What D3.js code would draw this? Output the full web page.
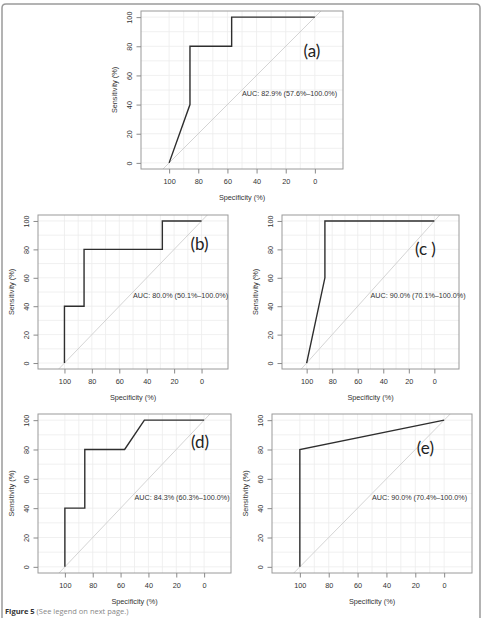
<!DOCTYPE html>
<html>
<head>
<meta charset="utf-8">
<script src="https://cdn.jsdelivr.net/npm/d3@7"></script>
<style>
  body { margin: 0; background: #fff; }
  svg { display: block; }
  .tick-label, .axis-title, .auc { font-family: "Liberation Sans", Arial, sans-serif; fill: #333; }
  .panel-label { font-family: Lato, "Open Sans", sans-serif; fill: #222; }
</style>
</head>
<body>
<script>
// ROC curves, specificity (%) on x (reversed), sensitivity (%) on y
var specA = [100, 85.7, 85.7, 57.1, 57.1, 0];
var sensA = [0, 40, 80, 80, 100, 100];

var specB = [100, 100, 85.7, 85.7, 28.6, 28.6, 0];
var sensB = [0, 40, 40, 80, 80, 100, 100];

var specC = [100, 85.7, 85.7, 0];
var sensC = [0, 60, 100, 100];

var specD = [100, 100, 85.7, 85.7, 57.1, 42.9, 0];
var sensD = [0, 40, 40, 80, 80, 100, 100];

var specE = [100, 100, 0];
var sensE = [0, 80, 100];

var panelLabels = ["(a)", "(b)", "(c )", "(d)", "(e)"];
var aucLabels = [
    "AUC: 82.9% (57.6%\u2013100.0%)",
    "AUC: 80.0% (50.1%\u2013100.0%)",
    "AUC: 90.0% (70.1%\u2013100.0%)",
    "AUC: 84.3% (60.3%\u2013100.0%)",
    "AUC: 90.0% (70.4%\u2013100.0%)"
];
var tickValues = [100, 80, 60, 40, 20, 0];
var gridValues = [0, 10, 20, 30, 40, 50, 60, 70, 80, 90, 100];
var xTitle = "Specificity (%)";
var yTitle = "Sensitivity (%)";

var width = 485,
    height = 618;

// plot box of each panel in pixels, plus where the (x) tag sits in data units
var layout = [
    { box: [141, 11, 343, 169], tag: [2, 77] },
    { box: [38, 215, 228, 369], tag: [1.5, 84] },
    { box: [282, 215, 459, 369], tag: [7, 80] },
    { box: [38, 414, 231, 573], tag: [3, 85] },
    { box: [272, 414, 472, 573], tag: [13, 81] }
];
var curves = [
    [specA, sensA], [specB, sensB], [specC, sensC], [specD, sensD], [specE, sensE]
];

var svg = d3.select("body").append("svg")
    .attr("width", width)
    .attr("height", height);

// page frame
svg.append("path")
    .attr("d", "M2,640 L2,8 Q2,4 6,4 L476,4 Q480,4 480,8 L480,640")
    .attr("fill", "none")
    .attr("stroke", "#9a9a9a")
    .attr("stroke-width", 1.5);

function drawPanel(i) {
    var b = layout[i].box;
    // R style axis extension (asp = 1)
    var x = d3.scaleLinear().domain([119.3, -19.3]).range([b[0], b[2]]);
    var y = d3.scaleLinear().domain([-4.2, 104.2]).range([b[3], b[1]]);

    var g = svg.append("g").attr("class", "panel");

    g.append("clipPath").attr("id", "clip" + i)
        .append("rect")
        .attr("x", b[0]).attr("y", b[1])
        .attr("width", b[2] - b[0]).attr("height", b[3] - b[1]);

    var inner = g.append("g").attr("clip-path", "url(#clip" + i + ")");

    // grid
    inner.selectAll(".gv").data(gridValues).enter().append("line")
        .attr("x1", function(d) { return x(d); })
        .attr("x2", function(d) { return x(d); })
        .attr("y1", b[1]).attr("y2", b[3])
        .attr("stroke", "#ececec").attr("stroke-width", 0.8);
    inner.selectAll(".gh").data(gridValues).enter().append("line")
        .attr("y1", function(d) { return y(d); })
        .attr("y2", function(d) { return y(d); })
        .attr("x1", b[0]).attr("x2", b[2])
        .attr("stroke", "#ececec").attr("stroke-width", 0.8);

    // chance diagonal
    inner.append("line")
        .attr("x1", x(130)).attr("y1", y(-30))
        .attr("x2", x(-30)).attr("y2", y(130))
        .attr("stroke", "#c9c9c9").attr("stroke-width", 0.8);

    // ROC curve
    var pts = curves[i][0].map(function(s, k) { return [s, curves[i][1][k]]; });
    var line = d3.line()
        .x(function(d) { return x(d[0]); })
        .y(function(d) { return y(d[1]); });
    g.append("path")
        .datum(pts)
        .attr("d", line)
        .attr("fill", "none")
        .attr("stroke", "#2e2e2e")
        .attr("stroke-width", 1.4)
        .attr("stroke-linejoin", "miter");

    // box
    g.append("rect")
        .attr("x", b[0]).attr("y", b[1])
        .attr("width", b[2] - b[0]).attr("height", b[3] - b[1])
        .attr("fill", "none")
        .attr("stroke", "#9a9a9a").attr("stroke-width", 1);

    // axes
    var xAxis = g.append("g")
        .attr("transform", "translate(0," + b[3] + ")")
        .call(d3.axisBottom(x).tickValues(tickValues).tickSize(4.5).tickFormat(d3.format("d")));
    var yAxis = g.append("g")
        .attr("transform", "translate(" + b[0] + ",0)")
        .call(d3.axisLeft(y).tickValues(tickValues).tickSize(4.5).tickFormat(d3.format("d")));
    [xAxis, yAxis].forEach(function(a) {
        a.select(".domain").remove();
        a.selectAll(".tick line").attr("stroke", "#8a8a8a");
        a.selectAll(".tick text")
            .attr("class", "tick-label")
            .style("font-size", "7.3px")
            .attr("fill", "#333");
    });
    xAxis.selectAll(".tick text").attr("y", 10).attr("dy", "0.71em");
    yAxis.selectAll(".tick text")
        .attr("x", null).attr("dy", null)
        .attr("text-anchor", "middle")
        .attr("transform", "translate(-11.5,0) rotate(-90)")
        .attr("y", 0).attr("dy", "0.35em");

    g.append("text")
        .attr("class", "axis-title")
        .attr("x", (b[0] + b[2]) / 2)
        .attr("y", b[3] + 30.5)
        .attr("text-anchor", "middle")
        .style("font-size", "7.3px")
        .text(xTitle);
    g.append("text")
        .attr("class", "axis-title")
        .attr("transform", "translate(" + (b[0] - 24.5) + "," + ((b[1] + b[3]) / 2) + ") rotate(-90)")
        .attr("text-anchor", "middle")
        .style("font-size", "7.3px")
        .text(yTitle);

    // AUC, left aligned at specificity 50, hanging from sensitivity 50
    g.append("text")
        .attr("class", "auc")
        .attr("x", x(50))
        .attr("y", y(50))
        .attr("dy", "0.85em")
        .style("font-size", "7.2px")
        .text(aucLabels[i]);

    // panel tag
    g.append("text")
        .attr("class", "panel-label")
        .attr("x", x(layout[i].tag[0]))
        .attr("y", y(layout[i].tag[1]))
        .attr("dy", "0.35em")
        .attr("text-anchor", "middle")
        .style("font-size", "17px")
        .text(panelLabels[i]);
}

for (var i = 0; i < layout.length; i++) {
    drawPanel(i);
}

// caption
var cap = svg.append("text")
    .attr("x", 5)
    .attr("y", 614)
    .style("font-family", "'Open Sans', 'Noto Sans', sans-serif")
    .style("font-size", "7.5px");
cap.append("tspan").attr("font-weight", "bold").attr("fill", "#333").text("Figure 5");
cap.append("tspan").attr("fill", "#888").text(" (See legend on next page.)");
</script>
</body>
</html>
